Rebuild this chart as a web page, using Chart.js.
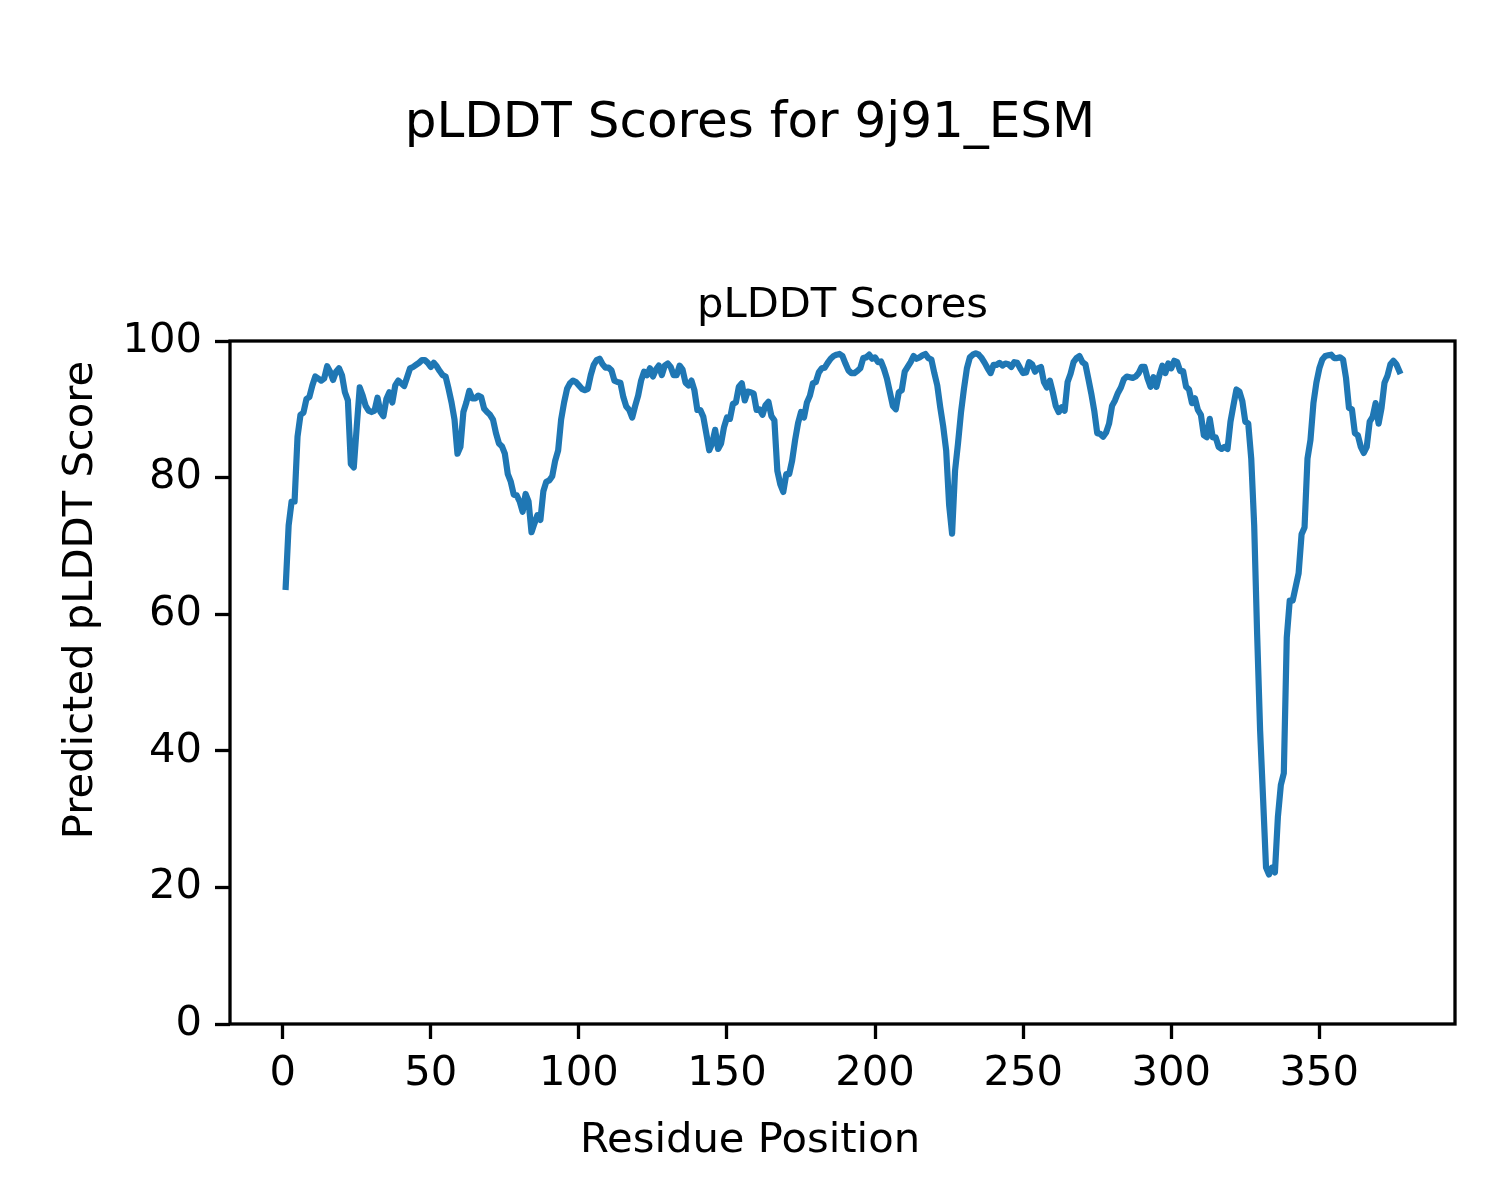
<!DOCTYPE html>
<html>
<head>
<meta charset="utf-8">
<script src="https://cdn.jsdelivr.net/npm/chart.js@4.4.1/dist/chart.umd.min.js"></script>
<style>
  body { margin: 0; background: #fff; }
  canvas { display: block; }
</style>
</head>
<body>
<canvas id="myChart" width="1500" height="1200"></canvas>
<script>
// pLDDT per residue (residue 1 .. 377)
const scores = [
  64, 73, 76.5, 76.5, 86, 89.2, 89.5, 91.5, 91.8, 93.5, 94.8, 94.5, 94.2, 94.5, 96.3, 95.5, 94.3, 95.5, 96, 95,
  92.5, 91.3, 82, 81.5, 87.5, 93.2, 92, 90.5, 89.8, 89.6, 89.8, 91.7, 89.6,
  89, 91.5, 92.5, 91, 93.5, 94.2, 93.8, 93.4, 94.7, 96, 96.2, 96.5, 96.8, 97.2, 97.2, 96.8, 96.2, 96.8, 96.3,
  95.6, 95, 94.8, 93, 91, 88.5, 83.5, 84.5, 89.6, 91, 92.7, 91.6, 91.6, 92, 91.8,
  90.1, 89.6, 89.2, 88.5, 86.5, 85, 84.6, 83.5, 80.5, 79.4, 77.5, 77.4, 76.5, 75, 77.6, 76.5, 72, 73.3, 74.5,
  73.8, 78, 79.4, 79.6, 80.2, 82.5, 84, 88.5, 91, 93, 93.8, 94.2, 94, 93.5,
  93, 92.8, 93, 95, 96.5, 97.2, 97.4, 96.6, 96.1, 96.1, 95.7, 94.2, 94, 93.9, 91.8, 90.4, 89.9, 88.8, 90.5, 92,
  94.2, 95.5, 95, 96, 94.8, 95.8, 96.4, 95, 96.4, 96.7, 96.2, 95, 95, 96.4,
  95.8, 93.9, 93.5, 94.2, 92.8, 89.9, 89.9, 88.9, 86.5, 84, 85, 87, 84.2, 85, 87.4, 88.8, 88.6, 90.8, 91, 93.3,
  93.8, 91.3, 92.6, 92.5, 92.3, 89.9, 90, 89.2, 90.6, 91.1, 89, 88.4, 81, 79,
  77.9, 80.5, 80.5, 82.5, 85.5, 88, 89.6, 88.8, 91, 92, 93.8, 94, 95.4, 96, 96.1, 96.8, 97.4, 97.8, 98, 98.1,
  97.8, 96.7, 95.7, 95.3, 95.3, 95.6, 96, 97.5, 97.6, 98, 97.4, 97.6, 96.9,
  97, 95.9, 94.5, 92.5, 90.5, 90, 92.5, 92.8, 95.5, 96.2, 96.9, 97.8, 97.4, 97.6, 97.9, 98.1, 97.5, 97.3, 95.3,
  93.5, 90.3, 87.5, 84, 76, 71.8, 81, 85, 89.5, 93, 96, 97.6, 98, 98.2, 98,
  97.5, 96.8, 96, 95.3, 96.5, 96.5, 96.8, 96.4, 96.7, 96.6, 96.2, 96.9, 96.8, 96, 95.3, 95.4, 96.9, 96.6, 95.5,
  96, 96.2, 94, 93.2, 94.2, 92.5, 90.5, 89.6, 90.3, 89.8, 94, 95.2, 96.9, 97.5, 97.8,
  96.9, 96.6, 94.5, 92.3, 89.8, 86.5, 86.4, 86, 86.6, 87.9, 90.5, 91.3, 92.4, 93.2, 94.4, 94.8, 94.7, 94.6, 94.8,
  95.3, 96.2, 96.2, 94.5, 93.3, 94.7, 93.3, 95, 96.4, 95.3, 96.7,
  96, 97.1, 96.9, 95.6, 95.6, 93.3, 92.9, 90.9, 91.6, 89.9,
  89.2, 86.2, 85.9, 88.6, 85.9, 85.9, 84.5, 84.2, 84.5, 84.2,
  88.2, 90.6, 92.9, 92.6, 91.2, 88.2, 87.9, 82.8, 73, 57,
  43, 33, 22.9, 21.9, 22.9, 22.2, 30.3, 35, 36.7, 56.6,
  62, 62, 64, 66, 71.7, 72.7, 82.8, 85.5, 90.9, 93.9,
  96, 97.3, 97.8, 97.9, 98,
  97.5, 97.5, 97.6, 97.3, 94.6, 90.2, 90, 86.5, 86.2, 84.5, 83.6, 84.5, 88.2, 88.9, 90.9, 87.9, 90.2, 93.9,
  94.9, 96.6, 97.1, 96.6, 95.6
];
const xTicks = [0, 50, 100, 150, 200, 250, 300, 350];
const yTicks = [0, 20, 40, 60, 80, 100];

const figTitle = "pLDDT Scores for 9j91_ESM";
const axTitle = "pLDDT Scores";
const xLabel = "Residue Position";
const yLabel = "Predicted pLDDT Score";

const FONT = "DejaVu Sans";

// residue numbers start at 1
const points = scores.map((s, i) => ({ x: i + 1, y: s }));

const extras = {
  id: "extras",
  afterDraw(chart) {
    const c = chart.ctx;
    const a = chart.chartArea;
    c.save();
    // frame (all four spines)
    c.strokeStyle = "#000";
    c.lineWidth = 3.3;
    c.strokeRect(a.left, a.top, a.right - a.left, a.bottom - a.top);
    c.fillStyle = "#000";
    c.textAlign = "center";
    c.textBaseline = "alphabetic";
    c.font = "50px '" + FONT + "'";
    c.fillText(figTitle, 750, 137);
    c.font = "41.7px '" + FONT + "'";
    c.fillText(axTitle, (a.left + a.right) / 2, 317);
    c.fillText(xLabel, 750, 1152);
    c.translate(92, 600);
    c.rotate(-Math.PI / 2);
    c.fillText(yLabel, 0, 0);
    c.restore();
  }
};

const tickFont = { family: FONT, size: 41.7 };

const ctx = document.getElementById("myChart").getContext("2d");
const myChart = new Chart(ctx, {
  type: "line",
  data: {
    datasets: [{
      data: points,
      borderColor: "#1f77b4",
      borderWidth: 6.2,
      borderJoinStyle: "round",
      borderCapStyle: "square",
      pointRadius: 0,
      tension: 0,
      fill: false
    }]
  },
  options: {
    responsive: false,
    animation: false,
    devicePixelRatio: 1,
    layout: { padding: { top: 341, right: 45, left: 0, bottom: 0 } },
    plugins: {
      legend: { display: false },
      title: { display: false },
      tooltip: { enabled: false }
    },
    scales: {
      x: {
        type: "linear",
        min: -17.8,
        max: 395.8,
        afterBuildTicks: axis => { axis.ticks = xTicks.map(v => ({ value: v })); },
        afterFit: s => { s.height = 176; },
        border: { display: false },
        grid: { drawOnChartArea: false, tickLength: 15, tickWidth: 3.3, tickColor: "#000" },
        ticks: { font: tickFont, color: "#000", padding: 10, maxRotation: 0, autoSkip: false }
      },
      y: {
        type: "linear",
        min: 0,
        max: 100,
        afterBuildTicks: axis => { axis.ticks = yTicks.map(v => ({ value: v })); },
        afterFit: s => { s.width = 230; },
        border: { display: false },
        grid: { drawOnChartArea: false, tickLength: 15, tickWidth: 3.3, tickColor: "#000" },
        ticks: { font: tickFont, color: "#000", padding: 13, autoSkip: false }
      }
    }
  },
  plugins: [extras]
});
</script>
</body>
</html>
